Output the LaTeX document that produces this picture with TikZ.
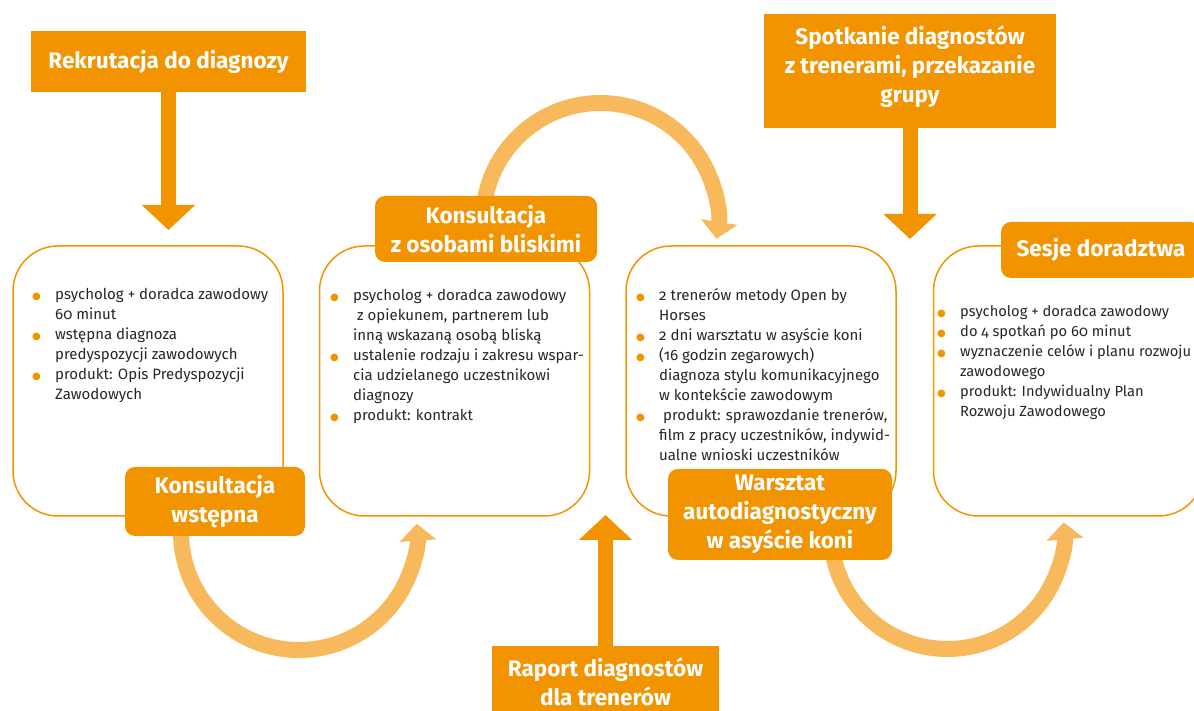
\documentclass[tikz,border=0pt]{standalone}
\usepackage{fontspec}
\setmainfont[Numbers=OldStyle]{Fira Sans}
\newfontfamily\dotfont{DejaVu Sans}
\usepackage{tikz}
\usetikzlibrary{positioning,calc,arrows.meta}

\definecolor{orangeM}{RGB}{242,147,0}
\definecolor{orangeL}{RGB}{247,185,92}
\newcommand{\bul}{\makebox[23pt][l]{\textcolor{orangeM}{\dotfont\fontsize{10}{10}\selectfont ●}}}
\newcommand{\ind}{\hspace*{23pt}}

\begin{document}
\begin{tikzpicture}[x=1pt,y=1pt]
		\tikzstyle{stage_box}=[draw=orangeM, line width=1.5pt, rounded corners=45pt, minimum width=270pt, minimum height=270pt, inner sep=0pt];
		\tikzstyle{stage_title}=[fill=orangeM, rounded corners=10pt, text=white, font=\bfseries\fontsize{22.5}{29}\selectfont, align=center, inner sep=0pt];
		\tikzstyle{head_box}=[fill=orangeM, text=white, font=\bfseries\fontsize{22.5}{29}\selectfont, align=center, inner sep=0pt];
		\tikzstyle{bullets}=[anchor=north west, align=left, inner sep=0pt, font=\fontsize{15}{20}\selectfont, text=black!85];
		\tikzstyle{big_arrow}=[draw=orangeM, line width=15pt, -{Triangle[width=52pt,length=25pt]}];
		\tikzstyle{loop_arrow}=[draw=orangeL, line width=16pt, -{Triangle[width=36pt,length=17pt]}];

		\useasboundingbox (0,0) rectangle (1194,711);

		% curved arrows between the stages
		\coordinate (a_start) at (181,179);
		\coordinate (b_start) at (483,490.5);
		\coordinate (c_start) at (831,178.5);
		\draw[loop_arrow] (a_start) arc[start angle=180, end angle=364, radius=118];
		\draw[loop_arrow] (b_start) arc[start angle=180, end angle=-9, radius=117.5];
		\draw[loop_arrow] (c_start) arc[start angle=180, end angle=365, radius=116.5];

		% stage boxes
		\node[stage_box] (box1) at (148,330) {};
		\node[stage_box, right = 35pt of box1] (box2) {};
		\node[stage_box, right = 35pt of box2] (box3) {};
		\node[stage_box, right = 36pt of box3] (box4) {};

		\node[bullets] (txt1) at (32,423) {%
			\bul psycholog + doradca zawodowy\\
			\ind 60 minut\\
			\bul wstępna diagnoza\\
			\ind predyspozycji zawodowych\\
			\bul produkt: Opis Predyspozycji\\
			\ind Zawodowych};
		\node[bullets] (txt2) at (330,422) {%
			\bul psycholog + doradca zawodowy\\
			\ind\hspace*{4pt}z opiekunem, partnerem lub\\
			\ind inną wskazaną osobą bliską\\
			\bul ustalenie rodzaju i zakresu wspar-\\
			\ind cia udzielanego uczestnikowi\\
			\ind diagnozy\\
			\bul produkt: kontrakt};
		\node[bullets] (txt3) at (636,423) {%
			\bul 2 trenerów metody Open by\\
			\ind Horses\\
			\bul 2 dni warsztatu w asyście koni\\
			\bul (16 godzin zegarowych)\\
			\ind diagnoza stylu komunikacyjnego\\
			\ind w kontekście zawodowym\\
			\bul\hspace*{4pt}produkt: sprawozdanie trenerów,\\
			\ind film z pracy uczestników, indywid-\\
			\ind ualne wnioski uczestników};
		\node[bullets, font=\fontsize{14.7}{20}\selectfont] (txt4) at (937,406) {%
			\bul psycholog + doradca zawodowy\\
			\bul do 4 spotkań po 60 minut\\
			\bul wyznaczenie celów i planu rozwoju\\
			\ind zawodowego\\
			\bul produkt: Indywidualny Plan\\
			\ind Rozwoju Zawodowego};

		% stage titles
		\node[stage_title, minimum width=180pt, minimum height=69pt] (t1) at (215,209.5) {Konsultacja\\wstępna};
		\node[stage_title, minimum width=222pt, minimum height=66pt] (t2) at (486,482) {Konsultacja\\z osobami bliskimi};
		\node[stage_title, minimum width=224pt, minimum height=91pt] (t3) at (780,196.5) {Warsztat\\autodiagnostyczny\\w asyście koni};
		\node[stage_title, minimum width=200pt, minimum height=56pt] (t4) at (1101,461) {Sesje doradztwa};

		% outer steps with straight arrows
		\node[head_box, minimum width=275pt, minimum height=61pt] (rekr) at (168.5,649.5) {Rekrutacja do diagnozy};
		\node[head_box, minimum width=292pt, minimum height=114pt, text depth=14pt] (spot) at (910,640) {Spotkanie diagnostów\\z trenerami, przekazanie\\grupy};
		\node[head_box, minimum width=227pt, minimum height=71pt] (rap) at (605.5,29.5) {Raport diagnostów\\dla trenerów};

		\coordinate (r_tip) at (168.5,481);
		\coordinate (s_tip) at (910,472);
		\coordinate (d_tip) at (605.5,196);
		\draw[big_arrow] (rekr.south) -- (r_tip);
		\draw[big_arrow] (spot.south) -- (s_tip);
		\draw[big_arrow] (rap.north) -- (d_tip);
	\end{tikzpicture}
\end{document}
